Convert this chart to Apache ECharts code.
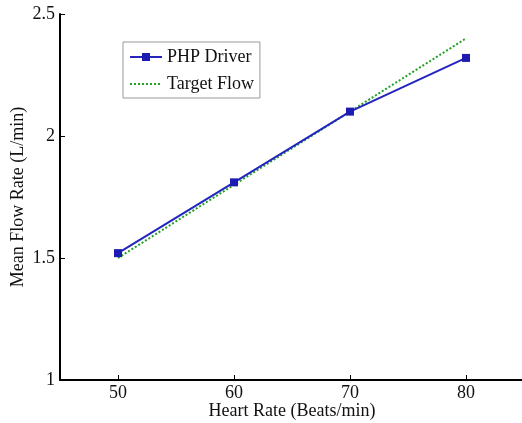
<!DOCTYPE html>
<html>
<head>
<meta charset="utf-8">
<script src="https://cdn.jsdelivr.net/npm/echarts@6/dist/echarts.min.js"></script>
<style>
  html, body { margin: 0; padding: 0; background: #fff; }
  #main { width: 522px; height: 423px; }
</style>
</head>
<body>
<div id="main"></div>
<script>
var heartRate = [50, 60, 70, 80];
var phpDriver = [1.52, 1.81, 2.10, 2.32];
var targetFlow = [1.50, 1.80, 2.10, 2.40];
var xTicks = [50, 60, 70, 80];

function pairs(xs, ys) {
    var out = [];
    for (var i = 0; i < xs.length; i++) {
        out.push([xs[i], ys[i]]);
    }
    return out;
}

var font = 'Liberation Serif';

echarts.init(document.getElementById('main')).setOption({
    animation: false,
    grid: { left: 60, right: -2, top: 14, bottom: 43, outerBoundsMode: 'none', containLabel: false },
    legend: {
        left: 123,
        top: 42,
        orient: 'vertical',
        itemWidth: 32,
        itemHeight: 10,
        itemGap: 9,
        padding: [6, 6, 5, 6],
        borderColor: '#999',
        borderWidth: 1,
        textStyle: { fontFamily: font, fontSize: 18, color: '#111' },
        data: [
            { name: 'PHP Driver' },
            { name: 'Target Flow', itemStyle: { opacity: 0 } }
        ]
    },
    xAxis: {
        type: 'value',
        min: 45,
        max: 85,
        interval: 5,
        name: 'Heart Rate (Beats/min)',
        nameLocation: 'middle',
        nameGap: 22,
        nameMoveOverlap: false,
        nameTextStyle: { fontFamily: font, fontSize: 18, color: '#111' },
        axisLine: { lineStyle: { color: '#000', width: 2 } },
        axisTick: {
            inside: true, length: 5,
            customValues: xTicks,
            lineStyle: { color: '#000', width: 1 }
        },
        axisLabel: {
            fontFamily: font, fontSize: 18, color: '#111', margin: 4,
            customValues: xTicks
        },
        splitLine: { show: false }
    },
    yAxis: {
        type: 'value',
        min: 1,
        max: 2.5,
        interval: 0.5,
        name: 'Mean Flow Rate (L/min)',
        nameLocation: 'middle',
        nameGap: 33,
        nameMoveOverlap: false,
        nameTextStyle: { fontFamily: font, fontSize: 18, color: '#111' },
        axisLine: { lineStyle: { color: '#000', width: 2 } },
        axisTick: { inside: true, length: 5, lineStyle: { color: '#000', width: 1 } },
        axisLabel: {
            fontFamily: font, fontSize: 18, color: '#111', margin: 5,
            formatter: function (v) { return String(Math.round(v * 10) / 10); }
        },
        splitLine: { show: false }
    },
    series: [
        {
            name: 'PHP Driver',
            type: 'line',
            data: pairs(heartRate, phpDriver),
            symbol: 'rect',
            symbolSize: 8,
            itemStyle: { color: '#1c1cb0' },
            lineStyle: { color: '#2424c0', width: 2 },
            z: 3
        },
        {
            name: 'Target Flow',
            type: 'line',
            data: pairs(heartRate, targetFlow),
            symbol: 'none',
            itemStyle: { color: '#1fa01f' },
            lineStyle: { color: '#1fa01f', width: 2, type: [2, 2] },
            z: 2
        }
    ]
});
</script>
</body>
</html>
